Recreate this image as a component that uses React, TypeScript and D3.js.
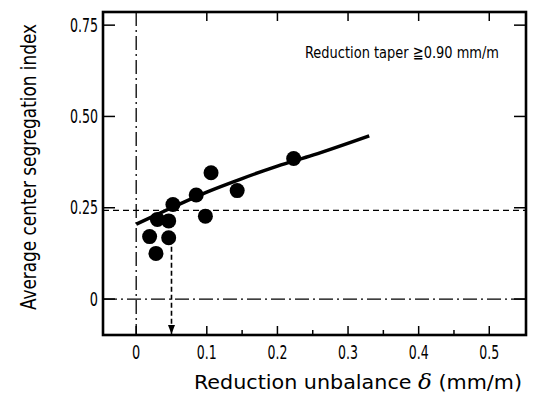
import * as d3 from 'd3';

// measured points (reduction unbalance δ, average center segregation index)
const POINTS_X = [0.106, 0.143, 0.085, 0.052, 0.098, 0.030, 0.046, 0.019, 0.046, 0.028, 0.223];
const POINTS_Y = [0.346, 0.297, 0.285, 0.259, 0.227, 0.218, 0.214, 0.171, 0.168, 0.125, 0.385];

// fitted curve
const FIT_X = [0.0, 0.05, 0.1, 0.15, 0.2, 0.25, 0.33];
const FIT_Y = [0.205, 0.25, 0.293, 0.33, 0.364, 0.394, 0.447];

const X_MAJOR = [0, 0.1, 0.2, 0.3, 0.4, 0.5];
const X_MINOR = [0.05, 0.15, 0.25, 0.35, 0.45];
const X_LABELS = ['0', '0.1', '0.2', '0.3', '0.4', '0.5'];
const Y_MAJOR = [0, 0.25, 0.5, 0.75];
const Y_LABELS = ['0', '0.25', '0.50', '0.75'];

const CRITICAL_Y = 0.243;
const CRITICAL_X = 0.05;

const W = 533;
const H = 400;
const left = 103, right = 526, top = 12, bottom = 335;

const FONT = '"Liberation Sans Narrow", "DejaVu Sans Condensed", "Liberation Sans", sans-serif';

// narrow digits, like the condensed face of the original
const labelWidth = (s: string) => s.replace('.', '').length * 8.2 + (s.includes('.') ? 3.5 : 0);

export default function App() {
  const x = d3.scaleLinear().domain([-0.047, 0.552]).range([left, right]);
  const y = d3.scaleLinear().domain([-0.0985, 0.786]).range([bottom, top]);

  const fit = FIT_X.map((v, i) => [v, FIT_Y[i]] as [number, number]);
  const line = d3
    .line<[number, number]>()
    .x((d) => x(d[0]))
    .y((d) => y(d[1]))
    .curve(d3.curveMonotoneX);

  const arrowX = x(CRITICAL_X);

  return (
    <div style={{ position: 'absolute', left: 0, top: 0 }}>
      <svg width={W} height={H} style={{ display: 'block', background: '#fff' }}>
        {/* reference lines */}
        <line x1={x(0)} x2={x(0)} y1={top} y2={bottom} stroke="#000" strokeWidth={1.3} strokeDasharray="14 4 2 4" />
        <line x1={left} x2={right} y1={y(0)} y2={y(0)} stroke="#000" strokeWidth={1.3} strokeDasharray="14 4 2 4" />
        <line x1={left} x2={right} y1={y(CRITICAL_Y)} y2={y(CRITICAL_Y)} stroke="#000" strokeWidth={1.3} strokeDasharray="6 4" />
        <line x1={arrowX} x2={arrowX} y1={y(0.165)} y2={bottom - 6} stroke="#000" strokeWidth={1.6} strokeDasharray="5 3" />
        <path d={`M${arrowX - 3.5},${bottom - 10} L${arrowX + 3.5},${bottom - 10} L${arrowX},${bottom - 1} Z`} fill="#000" />

        {/* frame */}
        <rect x={left} y={top} width={right - left} height={bottom - top} fill="none" stroke="#000" strokeWidth={2.6} />

        {/* ticks */}
        {X_MAJOR.map((t) => (
          <line key={'xb' + t} x1={x(t)} x2={x(t)} y1={bottom} y2={bottom - 9} stroke="#000" strokeWidth={1.5} />
        ))}
        {X_MINOR.map((t) => (
          <line key={'xm' + t} x1={x(t)} x2={x(t)} y1={bottom} y2={bottom - 5} stroke="#000" strokeWidth={1.5} />
        ))}
        {X_MAJOR.filter((t) => t > 0).map((t) => (
          <line key={'xt' + t} x1={x(t)} x2={x(t)} y1={top} y2={top + 9} stroke="#000" strokeWidth={1.5} />
        ))}
        {Y_MAJOR.map((t) => (
          <g key={'y' + t}>
            <line x1={left} x2={left + 12} y1={y(t)} y2={y(t)} stroke="#000" strokeWidth={1.5} />
            <line x1={right} x2={right - 12} y1={y(t)} y2={y(t)} stroke="#000" strokeWidth={1.5} />
          </g>
        ))}

        {/* tick labels */}
        {X_MAJOR.map((t, i) => (
          <text
            key={'xl' + t}
            x={x(t)}
            y={359}
            textAnchor="middle"
            fontFamily={FONT}
            fontSize={19}
            fill="#000"
            textLength={labelWidth(X_LABELS[i])}
            lengthAdjust="spacingAndGlyphs"
          >
            {X_LABELS[i]}
          </text>
        ))}
        {Y_MAJOR.map((t, i) => (
          <text
            key={'yl' + t}
            x={98}
            y={y(t) + 6.5}
            textAnchor="end"
            fontFamily={FONT}
            fontSize={19}
            fill="#000"
            textLength={labelWidth(Y_LABELS[i])}
            lengthAdjust="spacingAndGlyphs"
          >
            {Y_LABELS[i]}
          </text>
        ))}

        {/* fitted curve */}
        <path d={line(fit) ?? ''} fill="none" stroke="#000" strokeWidth={3.5} />

        {/* data points */}
        {POINTS_X.map((v, i) => (
          <circle key={'p' + i} cx={x(v)} cy={y(POINTS_Y[i])} r={7.5} fill="#000" />
        ))}

        {/* annotation */}
        <text x={305} y={58} fontFamily={FONT} fontSize={16.5} fill="#000" textLength={194} lengthAdjust="spacingAndGlyphs">
          Reduction taper ≧0.90 mm/m
        </text>

        {/* axis titles */}
        <g transform={`translate(36,${167}) rotate(-90) scale(0.8,1)`}>
          <text
            x={0}
            y={0}
            textAnchor="middle"
            fontFamily={FONT}
            fontSize={22}
            fill="#000"
            textLength={286 / 0.8}
            lengthAdjust="spacingAndGlyphs"
          >
            Average center segregation index
          </text>
        </g>
        <text x={194} y={389} fontFamily={FONT} fontSize={19.5} fill="#000" textLength={328} lengthAdjust="spacingAndGlyphs">
          Reduction unbalance <tspan fontStyle="italic" fontFamily="'DejaVu Serif', serif">δ</tspan> (mm/m)
        </text>
      </svg>
    </div>
  );
}
